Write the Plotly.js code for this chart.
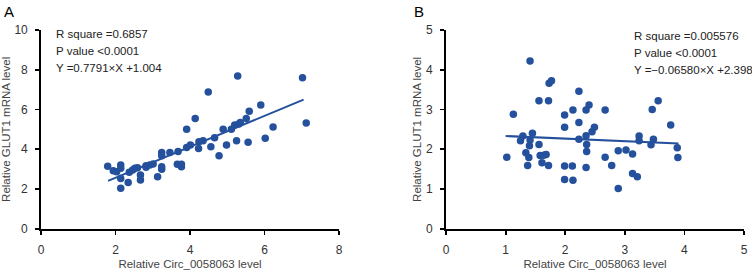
<!DOCTYPE html>
<html>
<head>
<meta charset="utf-8">
<script src="https://cdn.plot.ly/plotly-3.0.1.min.js"></script>
<style>html,body{margin:0;padding:0;background:#fff;}#chart{width:752px;height:272px;}</style>
</head>
<body>
<div id="chart"></div>
<script>
// Panel A data
const xA = [1.79,1.94,2.03,2.14,2.14,2.14,2.14,2.34,2.37,2.46,2.52,2.59,2.67,2.67,2.82,2.82,2.92,3.01,3.13,3.24,3.24,3.24,3.24,3.46,3.68,3.66,3.77,3.77,3.91,3.91,4.01,4.14,4.23,4.24,4.35,4.49,4.56,4.66,4.78,4.89,4.98,5.11,5.20,5.25,5.28,5.31,5.35,5.51,5.56,5.59,5.90,6.02,6.23,7.02,7.12];
const yA = [3.14,2.92,2.87,3.20,3.04,2.53,2.03,2.32,2.84,2.95,3.04,3.07,2.70,2.45,3.17,3.09,3.20,3.26,2.62,2.99,3.12,3.83,3.67,3.83,3.88,3.24,3.12,3.24,5.00,4.09,4.21,5.54,4.04,4.38,4.43,6.88,4.13,4.58,3.67,5.00,4.21,5.00,5.22,4.43,7.68,5.27,5.34,5.54,4.35,5.91,6.22,4.55,5.12,7.60,5.32];
const fitA = {slope: 0.7791, intercept: 1.004, xRange: [1.8, 7.05]};
const textA = ["R square =0.6857", "P value <0.0001", "Y =0.7791×X +1.004"];

// Panel B data
const xB = [1.02,1.13,1.25,1.29,1.34,1.37,1.39,1.41,1.41,1.40,1.45,1.56,1.56,1.58,1.61,1.64,1.68,1.72,1.72,1.73,1.77,1.99,1.99,1.99,1.99,2.12,2.13,2.13,2.23,2.23,2.23,2.35,2.40,2.35,2.36,2.36,2.35,2.45,2.49,2.67,2.67,2.78,2.89,2.89,3.02,3.13,3.13,3.21,3.24,3.24,3.44,3.46,3.48,3.56,3.77,3.88,3.89];
const yB = [1.80,2.88,2.21,2.33,1.91,1.59,1.79,4.22,2.23,2.09,2.40,3.22,2.12,1.84,1.66,1.85,1.87,3.22,1.59,3.66,3.72,2.86,2.55,1.58,1.24,1.58,1.22,2.99,3.46,2.67,2.25,2.99,3.11,2.34,2.12,1.94,1.54,2.44,2.55,2.99,1.80,1.59,1.96,1.01,1.98,1.88,1.39,1.31,2.33,2.21,2.11,3.00,2.25,3.22,2.61,2.04,1.79];
const fitB = {slope: -0.06580, intercept: 2.398, xRange: [1.0, 3.9]};
const textB = ["R square =0.005576", "P value <0.0001", "Y =−0.06580×X +2.398"];

const xTitle = "Relative Circ_0058063 level";
const yTitle = "Relative GLUT1 mRNA level";

const blue = "#24509c";
const fam = "Arial, 'Liberation Sans', sans-serif";
const tickFont = {family: fam, size: 12, color: "#333"};
const titleFont = {family: fam, size: 11.5, color: "#444"};

function lineTrace(fit, xa, ya) {
  const xs = fit.xRange;
  return {x: xs, y: xs.map(v => fit.slope * v + fit.intercept), xaxis: xa, yaxis: ya,
    mode: "lines", line: {color: blue, width: 2}, hoverinfo: "skip", showlegend: false};
}
function pts(x, y, xa, ya) {
  return {x: x, y: y, xaxis: xa, yaxis: ya, mode: "markers",
    marker: {color: blue, size: 7.5, line: {width: 0}}, showlegend: false};
}

const axisBase = {showgrid: false, zeroline: false, showline: true, linecolor: "#000", linewidth: 1.8,
  ticks: "outside", ticklen: 4, tickwidth: 1.8, tickcolor: "#000", tickfont: tickFont, fixedrange: true};

const data = [pts(xA, yA, "x", "y"), lineTrace(fitA, "x", "y"), pts(xB, yB, "x2", "y2"), lineTrace(fitB, "x2", "y2")];

function annLines(lines, xpos, top) {
  return lines.map((t, i) => ({text: t, xref: "paper", yref: "paper", x: xpos, y: (272 - top - i * 17) / 272,
    xanchor: "left", yanchor: "middle", showarrow: false, font: {family: fam, size: 11.5, color: "#222"}}));
}

const xAxisExtra = {ticklabelstandoff: 5, title: {text: xTitle, font: titleFont, standoff: 4}};
const yAxisExtra = {ticklabelstandoff: 5, title: {text: yTitle, font: titleFont, standoff: 2}};

const layout = {
  width: 752, height: 272, margin: {l: 0, r: 0, t: 0, b: 0},
  paper_bgcolor: "#fff", plot_bgcolor: "#fff", font: tickFont,
  xaxis: Object.assign({}, axisBase, xAxisExtra, {domain: [41/752, 339/752], range: [0, 8], tickvals: [0,2,4,6,8], anchor: "y"}),
  yaxis: Object.assign({}, axisBase, yAxisExtra, {domain: [43.3/272, 242/272], range: [0, 10], tickvals: [0,2,4,6,8,10], anchor: "x"}),
  xaxis2: Object.assign({}, axisBase, xAxisExtra, {domain: [446/752, 744/752], range: [0, 5], tickvals: [0,1,2,3,4,5], anchor: "y2"}),
  yaxis2: Object.assign({}, axisBase, yAxisExtra, {domain: [43.3/272, 242/272], range: [0, 5], tickvals: [0,1,2,3,4,5], anchor: "x2"}),
  annotations: [
    {text: "A", xref: "paper", yref: "paper", x: 2/752, y: 1 - 12/272, xanchor: "left", yanchor: "middle",
      showarrow: false, font: {family: fam, size: 15, color: "#000"}},
    {text: "B", xref: "paper", yref: "paper", x: 412/752, y: 1 - 12/272, xanchor: "left", yanchor: "middle",
      showarrow: false, font: {family: fam, size: 15, color: "#000"}}
  ].concat(annLines(textA, 54/752, 34)).concat(annLines(textB, 632/752, 36))
};

Plotly.newPlot("chart", data, layout, {displayModeBar: false, staticPlot: true});
</script>
</body>
</html>
